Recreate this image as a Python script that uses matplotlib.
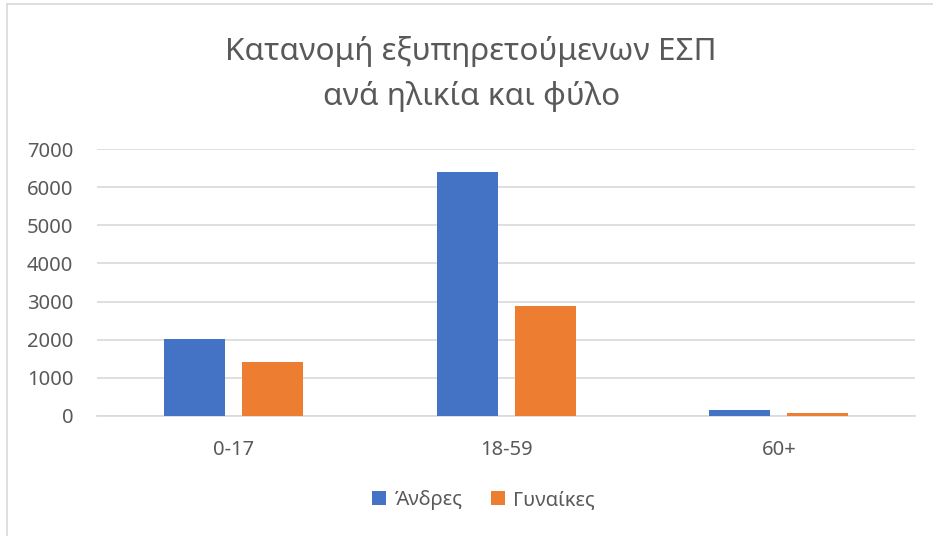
import matplotlib
matplotlib.use('Agg')
import matplotlib.pyplot as plt
from matplotlib.lines import Line2D
import numpy as np

plt.rcParams['font.family'] = ['Noto Sans', 'DejaVu Sans']

categories = ['0-17', '18-59', '60+']
men = [2020, 6390, 150]
women = [1410, 2890, 80]
series_names = ['Άνδρες', 'Γυναίκες']
yticks = [0, 1000, 2000, 3000, 4000, 5000, 6000, 7000]

fig = plt.figure(figsize=(9.33, 5.36), dpi=100)
fig.patch.set_facecolor('white')
ax = fig.add_axes([0.104, 0.224, 0.877, 0.498])

x = np.arange(len(categories))
w = 0.223
off = 0.143
ax.bar(x - off, men, w, color='#4472C4', label=series_names[0], zorder=3)
ax.bar(x + off, women, w, color='#ED7D31', label=series_names[1], zorder=3)

ax.set_xlim(-0.5, 2.5)
ax.set_ylim(0, 7000)
ax.set_yticks(yticks)
ax.set_xticks(x)
ax.set_xticklabels(categories)
ax.yaxis.grid(True, color='#D9D9D9', linewidth=1.2, zorder=0)
ax.set_axisbelow(True)
for s in ['top', 'right', 'left']:
    ax.spines[s].set_visible(False)
ax.spines['bottom'].set_color('#D9D9D9')
ax.spines['bottom'].set_linewidth(1.2)
ax.tick_params(axis='y', length=0, pad=17, labelsize=14.5, colors='#595959')
ax.tick_params(axis='x', length=0, pad=17, labelsize=14.5, colors='#595959')

fig.text(0.505, 0.862, 'Κατανομή εξυπηρετούμενων ΕΣΠ\nανά ηλικία και φύλο',
         ha='center', va='center', fontsize=22.7, color='#595959', linespacing=1.62)

fig.legend(loc='center', bbox_to_anchor=(0.518, 0.067), ncol=2, frameon=False,
           fontsize=14.5, handlelength=0.7, handleheight=0.7, handletextpad=0.4,
           columnspacing=1.4, labelcolor='#595959')

# chart frame (top and left edges visible)
fig.add_artist(Line2D([0.0075, 0.0075], [0, 0.993], transform=fig.transFigure,
                      color='#D9D9D9', lw=1.2))
fig.add_artist(Line2D([0.0075, 1.0], [0.993, 0.993], transform=fig.transFigure,
                      color='#D9D9D9', lw=1.2))

fig.savefig('out.png', dpi=100, facecolor='white')
